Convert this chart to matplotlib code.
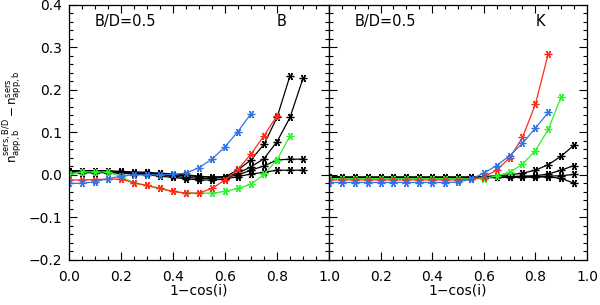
import matplotlib
matplotlib.use('Agg')
import matplotlib.pyplot as plt
import numpy as np
from matplotlib.ticker import MultipleLocator

# --- Panel B ---
b_red_x = [0.0, 0.05, 0.1, 0.15, 0.2, 0.25, 0.3, 0.35, 0.4, 0.45, 0.5, 0.55, 0.6, 0.65, 0.7, 0.75, 0.8]
b_red_y = [-0.012, -0.012, -0.011, -0.010, -0.010, -0.019, -0.025, -0.032, -0.039, -0.043, -0.043,
           -0.032, -0.012, 0.013, 0.049, 0.092, 0.139]
b_blue_x = [0.0, 0.05, 0.1, 0.15, 0.2, 0.25, 0.3, 0.35, 0.4, 0.45, 0.5, 0.55, 0.6, 0.65, 0.7]
b_blue_y = [-0.020, -0.020, -0.016, -0.009, -0.003, 0.0, 0.0, 0.0, 0.001, 0.004, 0.017, 0.037,
            0.066, 0.102, 0.144]
b_green_x = [0.0, 0.05, 0.1, 0.15, 0.2, 0.25, 0.3, 0.35, 0.4, 0.45, 0.5, 0.55, 0.6, 0.65, 0.7,
             0.75, 0.8, 0.85]
b_green_y = [0.003, 0.007, 0.007, 0.007, -0.004, -0.019, -0.025, -0.032, -0.039, -0.043, -0.043,
             -0.043, -0.039, -0.032, -0.022, 0.001, 0.035, 0.092]
b_black_x = [0.0, 0.05, 0.1, 0.15, 0.2, 0.25, 0.3, 0.35, 0.4, 0.45, 0.5, 0.55, 0.6, 0.65, 0.7,
             0.75, 0.8, 0.85, 0.9]
b_black_y = [
    [0.010, 0.010, 0.010, 0.010, 0.008, 0.007, 0.006, 0.004, 0.002, 0.0, -0.003, -0.006, -0.005,
     0.012, 0.035, 0.072, 0.135, 0.233],
    [0.008, 0.008, 0.008, 0.008, 0.006, 0.005, 0.004, 0.002, 0.0, -0.002, -0.004, -0.005, -0.004,
     0.004, 0.019, 0.038, 0.078, 0.135, 0.227],
    [0.006, 0.006, 0.006, 0.006, 0.005, 0.004, 0.003, 0.000, -0.003, -0.006, -0.008, -0.008, -0.006,
     0.0, 0.011, 0.021, 0.035, 0.037, 0.037],
    [0.005, 0.005, 0.005, 0.005, 0.004, 0.002, 0.0, -0.003, -0.006, -0.009, -0.012, -0.012, -0.010,
     -0.004, 0.002, 0.006, 0.011, 0.011, 0.011],
]

# --- Panel K ---
k_x = [0.0, 0.05, 0.1, 0.15, 0.2, 0.25, 0.3, 0.35, 0.4, 0.45, 0.5, 0.55, 0.6, 0.65, 0.7, 0.75,
       0.8, 0.85, 0.9, 0.95]
k_red_y = [-0.012, -0.012, -0.012, -0.012, -0.012, -0.012, -0.012, -0.012, -0.012, -0.012, -0.012,
           -0.010, -0.005, 0.011, 0.040, 0.088, 0.166, 0.285]
k_blue_y = [-0.018, -0.018, -0.018, -0.018, -0.018, -0.018, -0.018, -0.018, -0.018, -0.018, -0.017,
            -0.010, 0.004, 0.022, 0.045, 0.074, 0.110, 0.147]
k_green_y = [-0.009, -0.009, -0.009, -0.009, -0.009, -0.009, -0.009, -0.009, -0.009, -0.009, -0.009,
             -0.009, -0.009, -0.002, 0.006, 0.025, 0.057, 0.107, 0.184]
k_black_y = [
    [-0.004, -0.005, -0.005, -0.005, -0.005, -0.005, -0.005, -0.005, -0.005, -0.005, -0.005, -0.005,
     -0.004, -0.002, 0.0, 0.004, 0.011, 0.024, 0.044, 0.070],
    [-0.005, -0.006, -0.006, -0.006, -0.006, -0.006, -0.006, -0.006, -0.006, -0.006, -0.006, -0.006,
     -0.006, -0.005, -0.004, -0.003, -0.002, 0.002, 0.011, 0.022],
    [-0.006, -0.007, -0.007, -0.007, -0.007, -0.007, -0.007, -0.007, -0.007, -0.007, -0.007, -0.007,
     -0.007, -0.006, -0.006, -0.005, -0.004, -0.003, -0.002, 0.001],
    [-0.005, -0.006, -0.006, -0.006, -0.006, -0.006, -0.006, -0.006, -0.006, -0.006, -0.006, -0.006,
     -0.006, -0.006, -0.006, -0.006, -0.005, -0.005, -0.008, -0.020],
]

xticks = [0.0, 0.2, 0.4, 0.6, 0.8, 1.0]
yticks = [-0.2, -0.1, 0.0, 0.1, 0.2, 0.3, 0.4]
ytick_labels = ['\u22120.2', '\u22120.1', '0.0', '0.1', '0.2', '0.3', '0.4']

RED = '#ff2a1a'
BLUE = '#2f75e6'
GREEN = '#2ef02e'
MK = dict(marker=(6, 2, 90), markersize=5.5, markeredgewidth=0.9, linewidth=0.9)

plt.rcParams['font.family'] = 'DejaVu Sans'
fig = plt.figure(figsize=(6.0, 3.05), dpi=100)
ax1 = fig.add_axes([0.115, 0.148, 0.4333, 0.836])
ax2 = fig.add_axes([0.5483, 0.148, 0.43, 0.836])


def style(ax):
    ax.set_xlim(0, 1)
    ax.set_ylim(-0.2, 0.4)
    ax.set_xticks(xticks)
    ax.set_yticks(yticks)
    ax.xaxis.set_minor_locator(MultipleLocator(0.05))
    ax.yaxis.set_minor_locator(MultipleLocator(0.02))
    ax.tick_params(which='both', direction='in', top=True, right=True, labelsize=10,
                   width=0.8, color='black')
    ax.tick_params(which='major', length=6)
    ax.tick_params(which='minor', length=3)
    ax.tick_params(axis='x', which='major', pad=7)
    ax.tick_params(axis='y', which='major', pad=5)
    for s in ax.spines.values():
        s.set_linewidth(0.9)
    ax.set_xlabel('1\u2212cos(i)', fontsize=10, labelpad=0)


style(ax1)
style(ax2)

# panel B
for yy in b_black_y:
    ax1.plot(b_black_x[:len(yy)], yy, color='black', **MK)
ax1.plot(b_green_x, b_green_y, color=GREEN, **MK)
ax1.plot(b_red_x, b_red_y, color=RED, **MK)
ax1.plot(b_blue_x, b_blue_y, color=BLUE, **MK)
ax1.set_xticklabels(['0.0', '0.2', '0.4', '0.6', '0.8', '1.0'])
ax1.set_yticklabels(ytick_labels)
ax1.text(0.1, 0.36, 'B/D=0.5', fontsize=10.5, va='center')
ax1.text(0.8, 0.36, 'B', fontsize=10.5, va='center')
ax1.set_ylabel(r'$\mathrm{n}^{\rm sers,B/D}_{\rm app,b} - \mathrm{n}^{\rm sers}_{\rm app,b}$',
               fontsize=8.5)
ax1.yaxis.set_label_coords(-0.17, 0.56)

# panel K
for yy in k_black_y:
    ax2.plot(k_x[:len(yy)], yy, color='black', **MK)
ax2.plot(k_x[:len(k_green_y)], k_green_y, color=GREEN, **MK)
ax2.plot(k_x[:len(k_red_y)], k_red_y, color=RED, **MK)
ax2.plot(k_x[:len(k_blue_y)], k_blue_y, color=BLUE, **MK)
ax2.set_xticklabels(['', '0.2', '0.4', '0.6', '0.8', '1.0'])
ax2.set_yticklabels([])
ax2.text(0.1, 0.36, 'B/D=0.5', fontsize=10.5, va='center')
ax2.text(0.80, 0.36, 'K', fontsize=10.5, va='center')

fig.savefig('out.png', dpi=100)
